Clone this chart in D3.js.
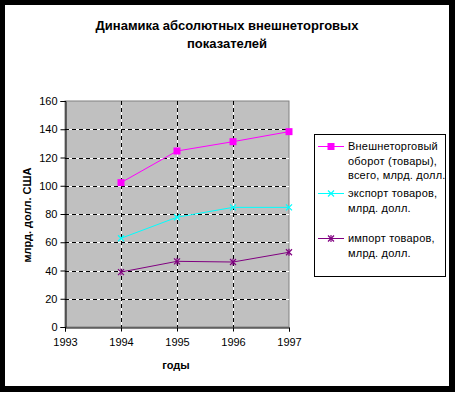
<!DOCTYPE html>
<html>
<head>
<meta charset="utf-8">
<script src="https://cdn.jsdelivr.net/npm/d3@7"></script>
<style>
body { margin: 0; background: #fff; }
text { font-family: "Liberation Sans", Arial, sans-serif; }
</style>
</head>
<body>
<svg width="457" height="393"></svg>
<script>
// Chart data
var years = [1994, 1995, 1996, 1997];
var totalTrade = [102.2, 124.6, 131.2, 138.3];
var exportGoods = [62.8, 77.7, 84.7, 84.7];
var importGoods = [38.9, 46.5, 46.0, 52.9];
var yTicks = [0, 20, 40, 60, 80, 100, 120, 140, 160];
var xTicks = [1993, 1994, 1995, 1996, 1997];
var seriesNames = [
    ["Внешнеторговый", "оборот (товары),", "всего, млрд. долл."],
    ["экспорт товаров,", "млрд. долл."],
    ["импорт товаров,", "млрд. долл."]
];

var svg = d3.select('svg');

// frame
svg.append('rect').attr('x', 0).attr('y', 0).attr('width', 455).attr('height', 392).attr('fill', '#000');
svg.append('rect').attr('x', 5).attr('y', 5).attr('width', 444).attr('height', 381).attr('fill', '#fff');

var plot = {l: 65, t: 101, r: 289, b: 327};

var xScale = d3.scaleLinear().domain([1993, 1997]).range([plot.l, plot.r]);
var yScale = d3.scaleLinear().domain([0, 160]).range([plot.b, plot.t]);

// plot background
svg.append('rect')
    .attr('x', plot.l).attr('y', plot.t)
    .attr('width', plot.r - plot.l).attr('height', plot.b - plot.t)
    .attr('fill', '#c0c0c0')
    .attr('stroke', '#808080');

// grid lines: white under, black dashes on top
var gridG = svg.append('g');
yTicks.slice(1, -1).forEach(function(v) {
    var y = Math.round(yScale(v)) + 0.5;
    gridG.append('line').attr('x1', plot.l).attr('x2', plot.r).attr('y1', y).attr('y2', y)
        .attr('stroke', '#fff');
    gridG.append('line').attr('x1', plot.l).attr('x2', plot.r).attr('y1', y).attr('y2', y)
        .attr('stroke', '#000').attr('stroke-dasharray', '4,3');
});
xTicks.slice(1, -1).forEach(function(v) {
    var x = Math.round(xScale(v)) + 0.5;
    gridG.append('line').attr('x1', x).attr('x2', x).attr('y1', plot.t).attr('y2', plot.b)
        .attr('stroke', '#fff');
    gridG.append('line').attr('x1', x).attr('x2', x).attr('y1', plot.t).attr('y2', plot.b)
        .attr('stroke', '#000').attr('stroke-dasharray', '4,3');
});

// axes
var yAxisG = svg.append('g')
    .attr('transform', 'translate(' + (plot.l + 0.5) + ',0)')
    .call(d3.axisLeft(yScale).tickValues(yTicks).tickSize(5).tickPadding(3));
var xAxisG = svg.append('g')
    .attr('transform', 'translate(0,' + (plot.b + 0.5) + ')')
    .call(d3.axisBottom(xScale).tickValues(xTicks).tickSize(4).tickPadding(7).tickFormat(d3.format('d')));
[yAxisG, xAxisG].forEach(function(g) {
    g.select('.domain').attr('stroke', '#000');
    g.selectAll('.tick line').attr('stroke', '#000');
    g.selectAll('.tick text').attr('fill', '#000').style('font-size', '11px')
        .style('font-family', '"Liberation Sans", Arial, sans-serif');
});

// series
var series = [
    {values: totalTrade, color: '#ff00ff', marker: 'square'},
    {values: exportGoods, color: '#00ffff', marker: 'x'},
    {values: importGoods, color: '#800080', marker: 'star'}
];

function drawMarker(g, type, color, x, y) {
    if (type === 'square') {
        g.append('rect').attr('x', x - 3.5).attr('y', y - 3.5).attr('width', 7).attr('height', 7).attr('fill', color);
    } else {
        var s = 3;
        g.append('path').attr('d', 'M' + (x - s) + ',' + (y - s) + 'L' + (x + s) + ',' + (y + s) +
            'M' + (x - s) + ',' + (y + s) + 'L' + (x + s) + ',' + (y - s))
            .attr('stroke', color).attr('stroke-width', 1.2).attr('fill', 'none');
        if (type === 'star') {
            g.append('path').attr('d', 'M' + x + ',' + (y - s - 0.5) + 'L' + x + ',' + (y + s + 0.5))
                .attr('stroke', color).attr('stroke-width', 1.2);
        }
    }
}

var line = d3.line()
    .x(function(d, i) { return xScale(years[i]); })
    .y(function(d) { return yScale(d); });

series.forEach(function(s) {
    var g = svg.append('g');
    g.append('path').datum(s.values).attr('d', line)
        .attr('fill', 'none').attr('stroke', s.color).attr('stroke-width', 1);
    s.values.forEach(function(v, i) {
        drawMarker(g, s.marker, s.color, xScale(years[i]), yScale(v));
    });
});

// titles
var title = svg.append('text').attr('text-anchor', 'middle')
    .style('font-size', '13px').style('font-weight', 'bold');
title.append('tspan').attr('x', 227).attr('y', 30).text('Динамика абсолютных внешнеторговых');
title.append('tspan').attr('x', 227).attr('y', 48).text('показателей');

svg.append('text')
    .attr('transform', 'translate(31,215) rotate(-90)')
    .attr('text-anchor', 'middle')
    .style('font-size', '11px').style('font-weight', 'bold')
    .text('млрд. долл. США');

svg.append('text')
    .attr('x', 176).attr('y', 369)
    .attr('text-anchor', 'middle')
    .style('font-size', '11px').style('font-weight', 'bold')
    .text('годы');

// legend
var legendG = svg.append('g');
legendG.append('rect').attr('x', 314.5).attr('y', 134.5).attr('width', 131).attr('height', 142)
    .attr('fill', '#fff').attr('stroke', '#000');
var entryY = [146, 193, 238];
series.forEach(function(s, i) {
    var y = entryY[i];
    legendG.append('line').attr('x1', 318).attr('x2', 344).attr('y1', y + 0.5).attr('y2', y + 0.5)
        .attr('stroke', s.color);
    drawMarker(legendG, s.marker, s.color, 331, y + 0.5);
    var t = legendG.append('text').style('font-size', '11px').style('letter-spacing', '0.2px')
        .attr('fill', '#000');
    seriesNames[i].forEach(function(name, j) {
        t.append('tspan').attr('x', 348).attr('y', y + 4 + j * 14.5).text(name);
    });
});
</script>
</body>
</html>
